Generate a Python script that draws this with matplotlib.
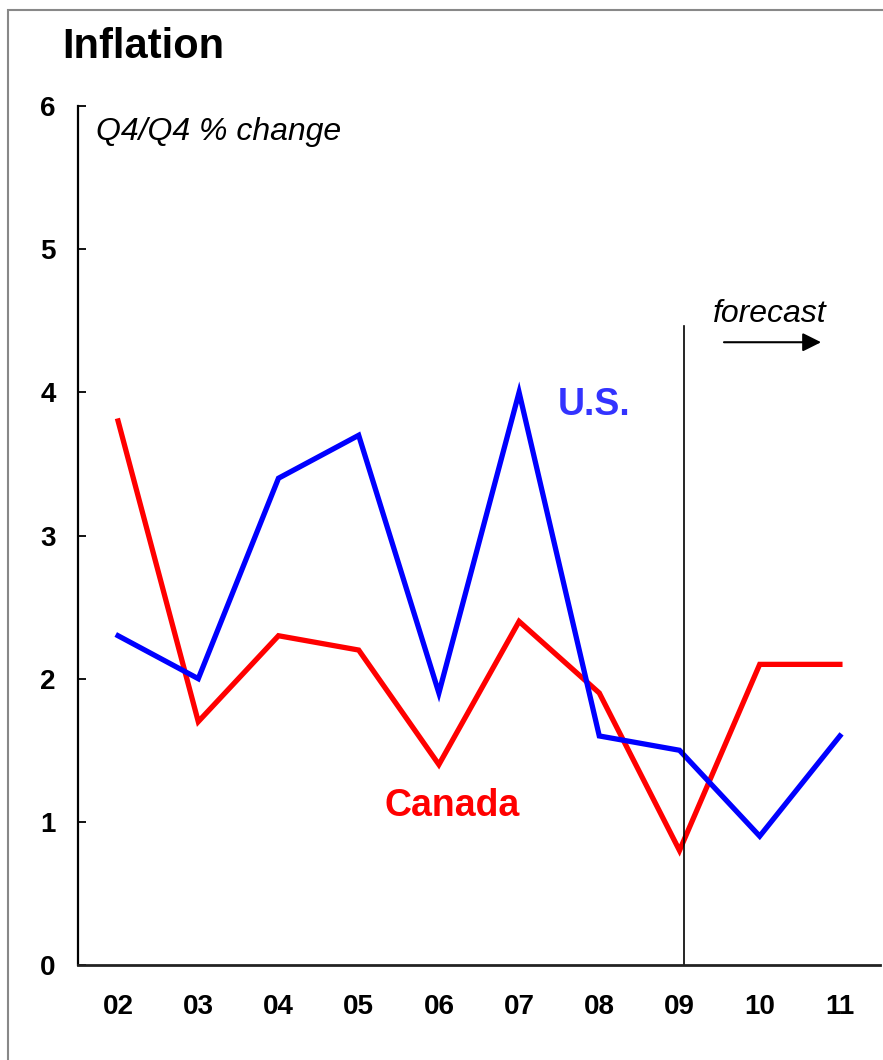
import matplotlib.pyplot as plt
from matplotlib.patches import Rectangle

# data
years = ['02', '03', '04', '05', '06', '07', '08', '09', '10', '11']
us = [2.3, 2.0, 3.4, 3.7, 1.9, 4.0, 1.6, 1.5, 0.9, 1.6]
canada = [3.8, 1.7, 2.3, 2.2, 1.4, 2.4, 1.9, 0.8, 2.1, 2.1]
y_ticks = [0, 1, 2, 3, 4, 5, 6]

plt.rcParams['font.family'] = ['Liberation Sans', 'DejaVu Sans']

fig = plt.figure(figsize=(8.83, 10.6), dpi=100)
ax = fig.add_axes([0.0883, 0.0896, 0.9083, 0.8104])

x = range(len(years))
ax.plot(x, canada, color='#ff0000', lw=3.8, solid_joinstyle='miter')
ax.plot(x, us, color='#0000ff', lw=3.8, solid_joinstyle='miter')

ax.set_xlim(-0.5, 9.5)
ax.set_ylim(0, 6)
ax.set_yticks(y_ticks)
ax.set_xticks(list(x))
ax.set_xticklabels(years, fontsize=20, fontweight='bold')
ax.set_yticklabels([str(v) for v in y_ticks], fontsize=20, fontweight='bold')
ax.tick_params(axis='y', direction='in', length=6, width=1.3, pad=16)
ax.tick_params(axis='x', length=0, pad=21)
for s in ['top', 'right']:
    ax.spines[s].set_visible(False)
ax.spines['left'].set_linewidth(1.6)
ax.spines['bottom'].set_linewidth(2.0)
ax.spines['bottom'].set_color('#222222')

# forecast marker
ax.plot([7.05, 7.05], [0, 4.46], color='black', lw=1.2)
ax.annotate('', xy=(8.8, 4.35), xytext=(7.52, 4.35),
            arrowprops=dict(arrowstyle='-|>', color='black', lw=1.5,
                            mutation_scale=28))
ax.text(8.13, 4.55, 'forecast', fontsize=23, style='italic',
        ha='center', va='center')

ax.text(-0.27, 5.82, 'Q4/Q4 % change', fontsize=23, style='italic',
        ha='left', va='center')
ax.text(5.94, 3.91, 'U.S.', fontsize=27, fontweight='bold', color='#3333ff',
        ha='center', va='center')
ax.text(4.16, 1.11, 'Canada', fontsize=27, fontweight='bold', color='#ff0000',
        ha='center', va='center')

fig.text(0.070, 0.945, 'Inflation', fontsize=30, fontweight='bold',
         ha='left', va='baseline')

fig.patches.append(Rectangle((8 / 883, -0.1), 1.2, 1.1 - 10 / 1060,
                             transform=fig.transFigure, fill=False,
                             edgecolor='#888888', lw=1.5))

fig.savefig('out.png', dpi=100)
